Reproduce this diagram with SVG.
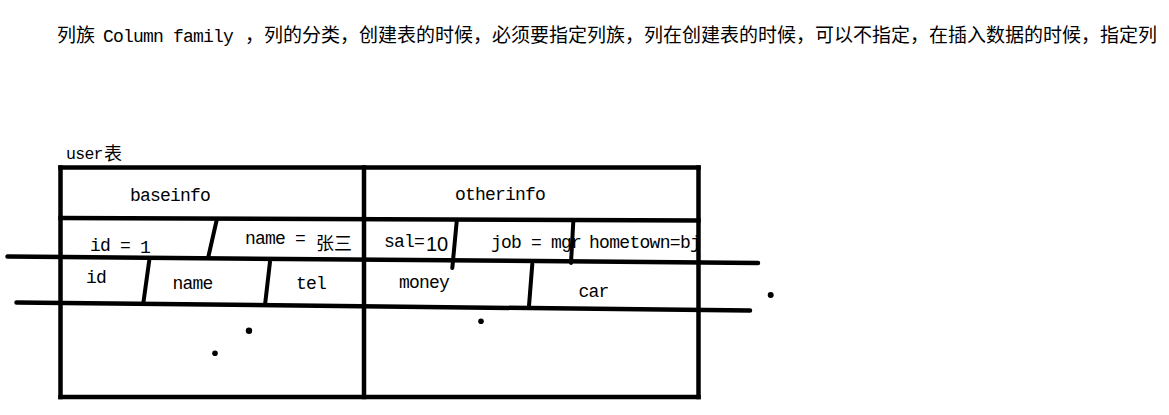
<svg xmlns="http://www.w3.org/2000/svg" width="1169" height="415" viewBox="0 0 1169 415">
<style>
.ln{stroke:#000;stroke-width:4.5;fill:none;stroke-linecap:round}
.fr{stroke:#000;stroke-width:4.5;fill:none;stroke-linecap:square}
.dv{stroke:#000;stroke-width:4;fill:none;stroke-linecap:round}
.m{font-family:"Liberation Mono",monospace;font-size:18px;letter-spacing:-0.8px;fill:#000}
.c{font-family:"Noto Sans CJK SC",sans-serif;fill:#000}
.dot{fill:#000}
</style>
<rect width="1169" height="415" fill="#fff"/>
<g id="title">
<text class="c" x="57" y="42" font-size="19">列族</text>
<text class="m" x="103" y="42">Column family</text>
<text class="c" x="245" y="42" font-size="19">，列的分类，创建表的时候，必须要指定列族，列在创建表的时候，可以不指定，在插入数据的时候，指定列</text>
</g>
<g id="table-label">
<text class="m" x="66" y="159" style="font-size:16.5px;letter-spacing:-0.7px">user</text>
<text class="c" x="104" y="159.5" font-size="18">表</text>
</g>
<g id="table-frame">
<line class="fr" x1="60.5" y1="167.5" x2="698.5" y2="167.5"/>
<line class="fr" x1="60.5" y1="397" x2="698.5" y2="397"/>
<line class="fr" x1="60.5" y1="167.5" x2="60.5" y2="397"/>
<line class="fr" x1="364" y1="167.5" x2="364" y2="397"/>
<line class="fr" x1="698.5" y1="167.5" x2="698.5" y2="397"/>
<line class="fr" x1="60.5" y1="218" x2="698.5" y2="220.5"/>
</g>
<g id="row-lines">
<line class="ln" x1="7.5" y1="256.5" x2="758" y2="263"/>
<line class="ln" x1="16.5" y1="302.5" x2="750" y2="310.5"/>
</g>
<g id="baseinfo">
<text class="m" x="130" y="201">baseinfo</text>
<text class="m" x="90" y="251">id = <tspan dy="2">1</tspan></text>
<text class="m" x="245" y="244">name =</text>
<text class="c" x="316" y="249.5" font-size="18">张三</text>
<text class="m" x="86" y="283">id</text>
<text class="m" x="172.5" y="289">name</text>
<text class="m" x="296" y="289">tel</text>
</g>
<g id="otherinfo">
<text class="m" x="455" y="200">otherinfo</text>
<text class="m" x="384" y="247">sal=</text>
<text x="426" y="251" font-family="Liberation Sans, sans-serif" font-size="20" fill="#000">10</text>
<text class="m" x="491" y="248">job = mgr</text>
<text class="m" x="589" y="248" style="letter-spacing:-0.7px">hometown=bj</text>
<text class="m" x="399" y="288">money</text>
<text class="m" x="578.5" y="297">car</text>
</g>
<g id="dividers">
<line class="dv" x1="216.7" y1="220" x2="208.3" y2="257"/>
<line class="dv" x1="456.7" y1="221.5" x2="452.3" y2="268"/>
<line class="dv" x1="573.3" y1="221.5" x2="571" y2="263"/>
<line class="dv" x1="149.3" y1="260" x2="143.3" y2="303.3"/>
<line class="dv" x1="270" y1="261.7" x2="265" y2="305"/>
<line class="dv" x1="532.3" y1="264" x2="529" y2="306"/>
</g>
<g id="dots">
<circle class="dot" cx="249" cy="330.7" r="3.2"/>
<circle class="dot" cx="215" cy="353.3" r="2.8"/>
<circle class="dot" cx="481" cy="321.3" r="2.8"/>
<circle class="dot" cx="770.7" cy="295" r="3"/>
</g>
</svg>
